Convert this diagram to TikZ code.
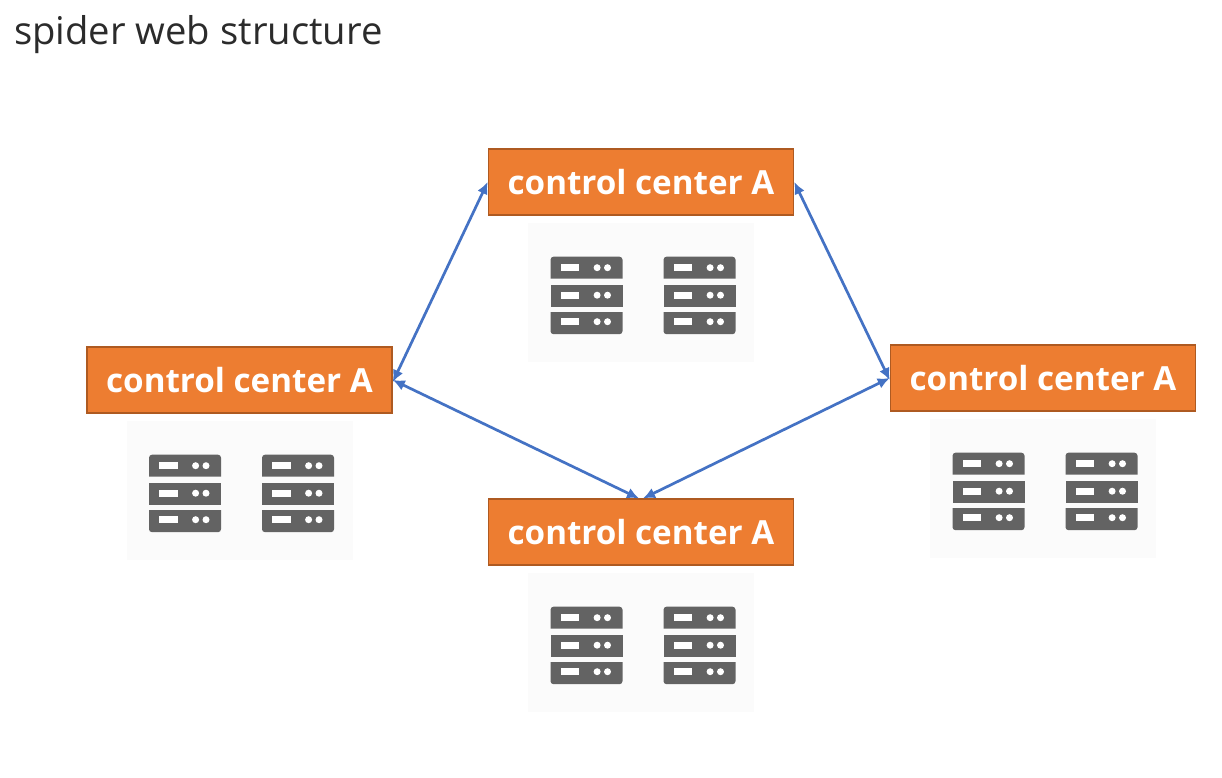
\documentclass[tikz,border=0pt]{standalone}
\usepackage{fontspec}
\setmainfont{Open Sans}
\usetikzlibrary{arrows.meta,positioning,calc}
\definecolor{boxfill}{HTML}{ED7D31}
\definecolor{boxline}{HTML}{AE5A21}
\definecolor{linkblue}{HTML}{4472C4}
\definecolor{srv}{HTML}{636363}
\definecolor{panel}{HTML}{FBFBFB}
\definecolor{titlecol}{HTML}{2B2B2B}
\newcommand{\centerlabel}{\raisebox{-1pt}{control center A}}
\tikzset{
  x=1pt,y=-1pt,
  center/.style={draw=boxline,fill=boxfill,line width=1.6pt,minimum width=305pt,minimum height=65.5pt,inner sep=0pt,text=white,font=\fontsize{33.2pt}{38pt}\selectfont\bfseries},
  link/.style={draw=linkblue,line width=2.7pt,{Latex[length=12pt,width=11pt]}-{Latex[length=12pt,width=11pt]}},
  pics/rack/.style={code={
    \fill[srv,rounded corners=3pt] (0,9) -- (0,0) -- (72,0) -- (72,9) [sharp corners] -- (72,22) -- (0,22) -- cycle;
    \fill[srv] (0,28.5) rectangle (72,50);
    \fill[srv,rounded corners=3pt] (0,66) -- (0,77.5) -- (72,77.5) -- (72,66) [sharp corners] -- (72,55.5) -- (0,55.5) -- cycle;
    \foreach \yy in {11,38.5,65}{
      \fill[white] (10,\yy-3.7) rectangle (28.6,\yy+3.7);
      \fill[white] (46.6,\yy) circle[radius=3.5];
      \fill[white] (57,\yy) circle[radius=3.5];
    }
  }},
  pics/serverpanel/.style={code={
    \fill[panel] (0,0) rectangle (226,139);
    \pic at (22.5,33.7) {rack};
    \pic at (135.5,33.7) {rack};
  }}
}
\begin{document}
\begin{tikzpicture}
\useasboundingbox (0,0) rectangle (1222,778);
\fill[white] (0,0) rectangle (1222,778);
\node[anchor=base west,inner sep=0pt,text=titlecol,font=\fontsize{38.2pt}{44pt}\selectfont] (title) at (14,44.5) {spider web structure};
\pic at (528,223) {serverpanel};
\pic at (126.5,421) {serverpanel};
\pic at (930,419) {serverpanel};
\pic at (528,573) {serverpanel};
\node[center] (top) at (641,182) {\centerlabel};
\node[center] (left) at (239.5,380) {\centerlabel};
\node[center] (right) at (1043,378) {\centerlabel};
\node[center] (bottom) at (641,532) {\centerlabel};
\draw[link] ([yshift=-2pt]left.east) -- (top.west);
\draw[link] (top.east) -- ([yshift=-2pt]right.west) ;
\draw[link] (left.east) -- ([xshift=-2pt]bottom.north);
\draw[link] (right.west) -- ([xshift=2pt]bottom.north);
\end{tikzpicture}
\end{document}
